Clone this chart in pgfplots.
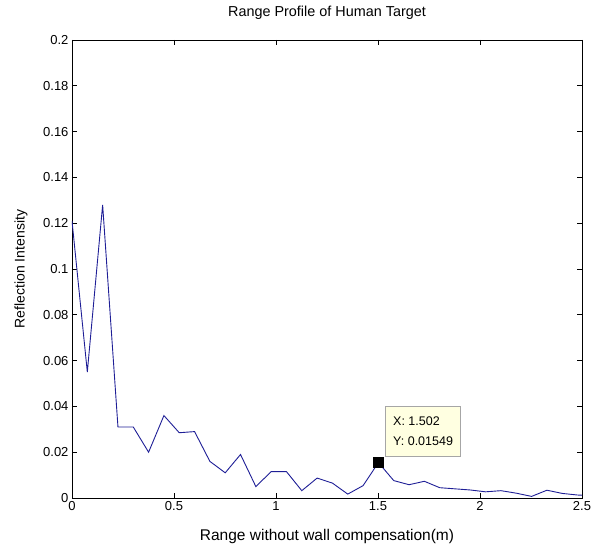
\documentclass[border=0pt]{standalone}
\usepackage{fontspec}
\setmainfont{Liberation Sans}
\usepackage{pgfplots}
\pgfplotsset{compat=1.18}
\definecolor{trace}{RGB}{30,30,150}
\definecolor{tipbg}{RGB}{255,255,225}

\begin{document}
\begin{tikzpicture}
\useasboundingbox (-72pt,-53pt) rectangle (530pt,498pt);
\begin{axis}[scale only axis,width=510pt,height=458pt,
  xmin=0,xmax=2.5,ymin=0,ymax=0.2,
  xtick={0,0.5,...,2.5},ytick={0,0.02,...,0.2},
  scaled y ticks=false,scaled x ticks=false,
  /pgf/number format/assume math mode=true,
  yticklabel style={/pgf/number format/fixed,/pgf/number format/precision=2},
  tick align=inside,major tick length=5pt,
  tick style={black,line width=0.6pt},
  axis line style={line width=0.6pt},
  tick label style={font=\fontsize{13}{15}\selectfont},
  title={Range Profile of Human Target},
  title style={at={(axis description cs:0.5,1.046)},anchor=center,font=\fontsize{14.4}{17}\selectfont},
  xlabel={Range without wall compensation(m)},
  xlabel style={at={(axis description cs:0.5,-0.084)},anchor=center,font=\fontsize{15.5}{18}\selectfont},
  ylabel={Reflection Intensity},
  ylabel style={at={(axis description cs:-0.100,0.5)},anchor=center,font=\fontsize{14}{17}\selectfont},
  clip=true]
\addplot[trace,line width=0.9pt,mark=none] coordinates {
(0,0.121)(0.0751,0.055)(0.1502,0.128)(0.2253,0.031)(0.3004,0.031)
(0.3755,0.020)(0.4506,0.036)(0.5257,0.0285)(0.6008,0.029)(0.6759,0.016)
(0.7510,0.011)(0.8261,0.019)(0.9012,0.005)(0.9763,0.0115)(1.0514,0.0115)
(1.1265,0.0032)(1.2016,0.0087)(1.2767,0.0065)(1.3518,0.0017)(1.4269,0.0054)
(1.502,0.01549)(1.5771,0.0076)(1.6522,0.0058)(1.7273,0.0073)(1.8024,0.0045)
(1.8775,0.0040)(1.9526,0.0035)(2.0277,0.0027)(2.1028,0.0032)(2.1779,0.0021)
(2.2530,0.0007)(2.3281,0.0034)(2.4032,0.0020)(2.4783,0.0013)(2.5534,0.0010)};
% data tip
\addplot[black,only marks,mark=square*,mark size=5pt] coordinates {(1.502,0.01549)};
\node[draw=black!35,fill=tipbg,anchor=south west,xshift=7pt,yshift=6pt,
  minimum width=75pt,minimum height=50pt,inner sep=5pt,align=left,
  font=\fontsize{12.5}{20}\selectfont]
  at (axis cs:1.502,0.01549) {X: 1.502\\Y: 0.01549};
\end{axis}
\end{tikzpicture}
\end{document}
